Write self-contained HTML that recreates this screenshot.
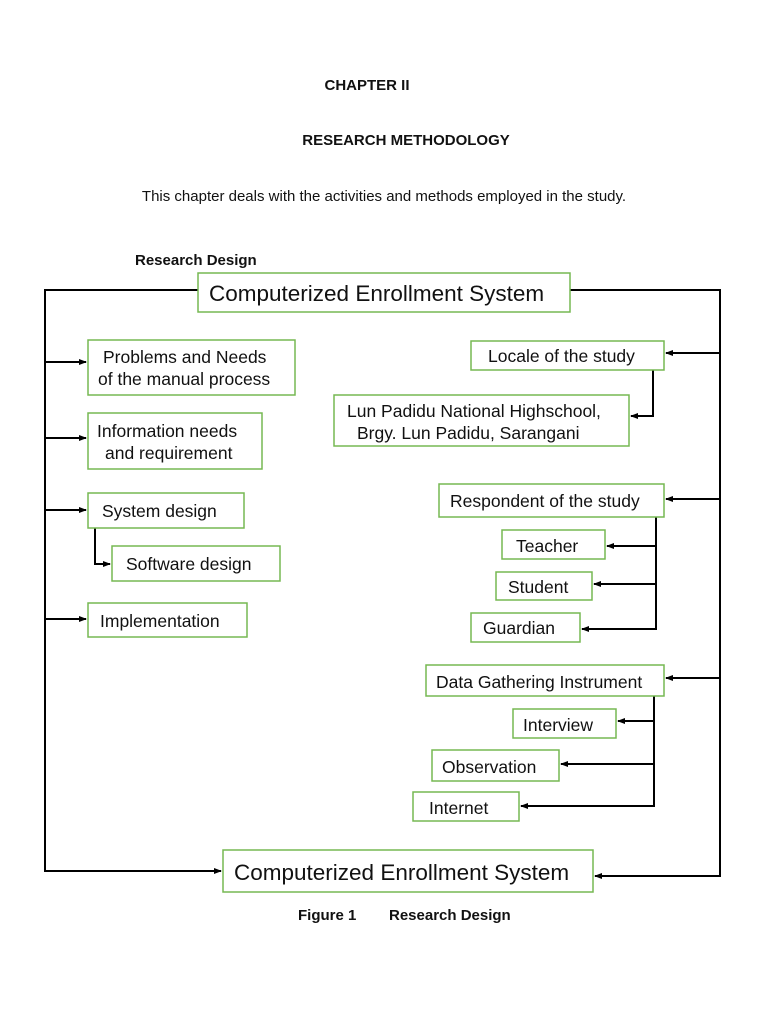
<!DOCTYPE html>
<html><head><meta charset="utf-8"><style>
html,body{margin:0;padding:0;background:#fff;}
svg{display:block;}
text{font-family:"Liberation Sans",Arial,sans-serif;fill:#111;}
.b{fill:#fff;stroke:#76b852;stroke-width:1.5;}
.l{stroke:#000;stroke-width:2;fill:none;}
.t{font-size:17.5px;}
.h{font-size:15px;font-weight:bold;}
.big{font-size:22.5px;}
</style></head><body>
<svg width="768" height="1024" viewBox="0 0 768 1024" xmlns="http://www.w3.org/2000/svg">
<defs><marker id="a" markerWidth="8" markerHeight="8" refX="7" refY="4" orient="auto" markerUnits="userSpaceOnUse"><path d="M0,1 L8,4 L0,7 z" fill="#000"/></marker></defs>
<text x="367" y="90" class="h" text-anchor="middle">CHAPTER II</text>
<text x="406" y="145" class="h" text-anchor="middle">RESEARCH METHODOLOGY</text>
<text x="384" y="201" font-size="15" text-anchor="middle">This chapter deals with the activities and methods employed in the study.</text>
<text x="135" y="265" class="h">Research Design</text>

<path class="l" d="M198,290 H45 V871 H221" marker-end="url(#a)"/>
<path class="l" d="M570,290 H720 V876 H595" marker-end="url(#a)"/>
<path class="l" d="M45,362 H86" marker-end="url(#a)"/>
<path class="l" d="M45,438 H86" marker-end="url(#a)"/>
<path class="l" d="M45,510 H86" marker-end="url(#a)"/>
<path class="l" d="M45,619 H86" marker-end="url(#a)"/>
<path class="l" d="M95,528 V564 H110" marker-end="url(#a)"/>
<path class="l" d="M720,353 H666" marker-end="url(#a)"/>
<path class="l" d="M720,499 H666" marker-end="url(#a)"/>
<path class="l" d="M720,678 H666" marker-end="url(#a)"/>
<path class="l" d="M653,370 V416 H631" marker-end="url(#a)"/>
<path class="l" d="M656,517 V629 H582" marker-end="url(#a)"/>
<path class="l" d="M656,546 H607" marker-end="url(#a)"/>
<path class="l" d="M656,584 H594" marker-end="url(#a)"/>
<path class="l" d="M654,696 V806 H521" marker-end="url(#a)"/>
<path class="l" d="M654,721 H618" marker-end="url(#a)"/>
<path class="l" d="M654,764 H561" marker-end="url(#a)"/>

<rect class="b" x="198" y="273" width="372" height="39"/>
<text x="209" y="301" class="big">Computerized Enrollment System</text>
<rect class="b" x="223" y="850" width="370" height="42"/>
<text x="234" y="880" class="big">Computerized Enrollment System</text>

<rect class="b" x="88" y="340" width="207" height="55"/>
<text x="103" y="363" class="t">Problems and Needs</text>
<text x="98" y="385" class="t">of the manual process</text>
<rect class="b" x="88" y="413" width="174" height="56"/>
<text x="97" y="437" class="t">Information needs</text>
<text x="105" y="459" class="t">and requirement</text>
<rect class="b" x="88" y="493" width="156" height="35"/>
<text x="102" y="517" class="t">System design</text>
<rect class="b" x="112" y="546" width="168" height="35"/>
<text x="126" y="570" class="t">Software design</text>
<rect class="b" x="88" y="603" width="159" height="34"/>
<text x="100" y="627" class="t">Implementation</text>

<rect class="b" x="471" y="341" width="193" height="29"/>
<text x="488" y="362" class="t">Locale of the study</text>
<rect class="b" x="334" y="395" width="295" height="51"/>
<text x="347" y="417" class="t">Lun Padidu National Highschool,</text>
<text x="357" y="439" class="t">Brgy. Lun Padidu, Sarangani</text>
<rect class="b" x="439" y="484" width="225" height="33"/>
<text x="450" y="507" class="t">Respondent of the study</text>
<rect class="b" x="502" y="530" width="103" height="29"/>
<text x="516" y="552" class="t">Teacher</text>
<rect class="b" x="496" y="572" width="96" height="28"/>
<text x="508" y="593" class="t">Student</text>
<rect class="b" x="471" y="613" width="109" height="29"/>
<text x="483" y="634" class="t">Guardian</text>
<rect class="b" x="426" y="665" width="238" height="31"/>
<text x="436" y="688" class="t">Data Gathering Instrument</text>
<rect class="b" x="513" y="709" width="103" height="29"/>
<text x="523" y="731" class="t">Interview</text>
<rect class="b" x="432" y="750" width="127" height="31"/>
<text x="442" y="773" class="t">Observation</text>
<rect class="b" x="413" y="792" width="106" height="29"/>
<text x="429" y="814" class="t">Internet</text>

<text x="298" y="920" class="h">Figure 1</text>
<text x="389" y="920" class="h">Research Design</text>
</svg>
</body></html>
